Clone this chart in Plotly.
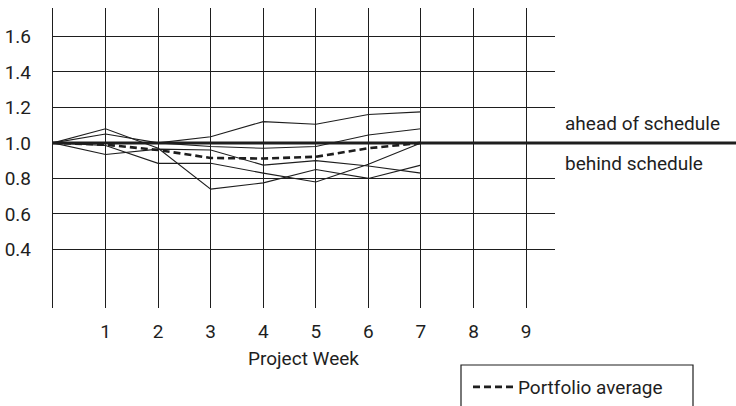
import plotly.graph_objects as go

weeks = [0, 1, 2, 3, 4, 5, 6, 7]
project_a = [1.0, 1.05, 1.0, 1.035, 1.12, 1.105, 1.16, 1.175]
project_b = [1.0, 1.0, 1.0, 0.98, 0.97, 0.98, 1.045, 1.08]
project_c = [1.0, 0.935, 0.965, 0.96, 0.875, 0.90, 0.87, 0.83]
project_d = [1.0, 0.985, 0.885, 0.885, 0.83, 0.78, 0.88, 1.0]
project_e = [1.0, 1.08, 0.97, 0.74, 0.775, 0.85, 0.80, 0.875]
portfolio_avg = [1.0, 0.99, 0.96, 0.915, 0.912, 0.922, 0.97, 1.0]

x_ticks = [1, 2, 3, 4, 5, 6, 7, 8, 9]
y_ticks = [0.4, 0.6, 0.8, 1.0, 1.2, 1.4, 1.6]
y_tick_text = ["0.4", "0.6", "0.8", "1.0", "1.2", "1.4", "1.6"]

FONT = "Roboto, Liberation Sans, Arial, sans-serif"
INK = "#1e1e1e"

fig = go.Figure()
for s in [project_a, project_b, project_c, project_d, project_e]:
    fig.add_trace(go.Scatter(x=weeks, y=s, mode="lines",
                             line=dict(color=INK, width=1.1),
                             showlegend=False, hoverinfo="skip"))
fig.add_trace(go.Scatter(x=weeks, y=portfolio_avg, mode="lines",
                         name="Portfolio average",
                         line=dict(color=INK, width=2.6, dash="7px,4px"),
                         showlegend=True))

W, H = 736, 406
L, R, T, B = 53, 181, 8, 98
pw = W - L - R
ph = H - T - B

def px(xpix):
    return (xpix - L) / pw

def py(ypix):
    return (H - B - ypix) / ph

fig.add_shape(type="line", xref="paper", yref="y", x0=0, x1=px(736), y0=1.0, y1=1.0,
              line=dict(color=INK, width=3), layer="below")
fig.add_shape(type="rect", xref="paper", yref="paper", x0=px(461), x1=px(693),
              y0=py(365), y1=py(430), line=dict(color=INK, width=1.2))

fig.add_annotation(text="ahead of schedule", xref="paper", yref="y", x=px(563), y=1.111,
                   xanchor="left", yanchor="middle", showarrow=False,
                   font=dict(family=FONT, size=19, color=INK))
fig.add_annotation(text="behind schedule", xref="paper", yref="y", x=px(563), y=0.886,
                   xanchor="left", yanchor="middle", showarrow=False,
                   font=dict(family=FONT, size=19, color=INK))
fig.add_annotation(text="Project Week", xref="paper", yref="paper", x=px(303.5), y=py(358),
                   xanchor="center", yanchor="middle", showarrow=False,
                   font=dict(family=FONT, size=19, color=INK))

fig.update_layout(
    width=W, height=H,
    margin=dict(l=L, r=R, t=T, b=B, pad=0, autoexpand=False),
    paper_bgcolor="white", plot_bgcolor="white",
    font=dict(family=FONT, size=19, color=INK),
    showlegend=True,
    legend=dict(x=px(468), y=py(368), xanchor="left", yanchor="top",
                bgcolor="rgba(0,0,0,0)", borderwidth=0, itemwidth=40,
                font=dict(family=FONT, size=19, color=INK)),
    xaxis=dict(range=[0, 9.55], tickvals=x_ticks, ticktext=[str(v) for v in x_ticks],
               showgrid=True, gridcolor=INK, gridwidth=1.3, zeroline=False,
               showline=False, ticks="", ticklabelstandoff=10, automargin=False),
    yaxis=dict(range=[0.07, 1.76], tickvals=y_ticks, ticktext=y_tick_text,
               showgrid=True, gridcolor=INK, gridwidth=1.3, zeroline=False,
               showline=True, linecolor=INK, linewidth=1.3, ticks="",
               ticklabelstandoff=17, automargin=False),
)

fig.write_html("out.html", config={"displayModeBar": False},
               post_script="document.body.style.margin='0';document.body.style.overflow='hidden';")
